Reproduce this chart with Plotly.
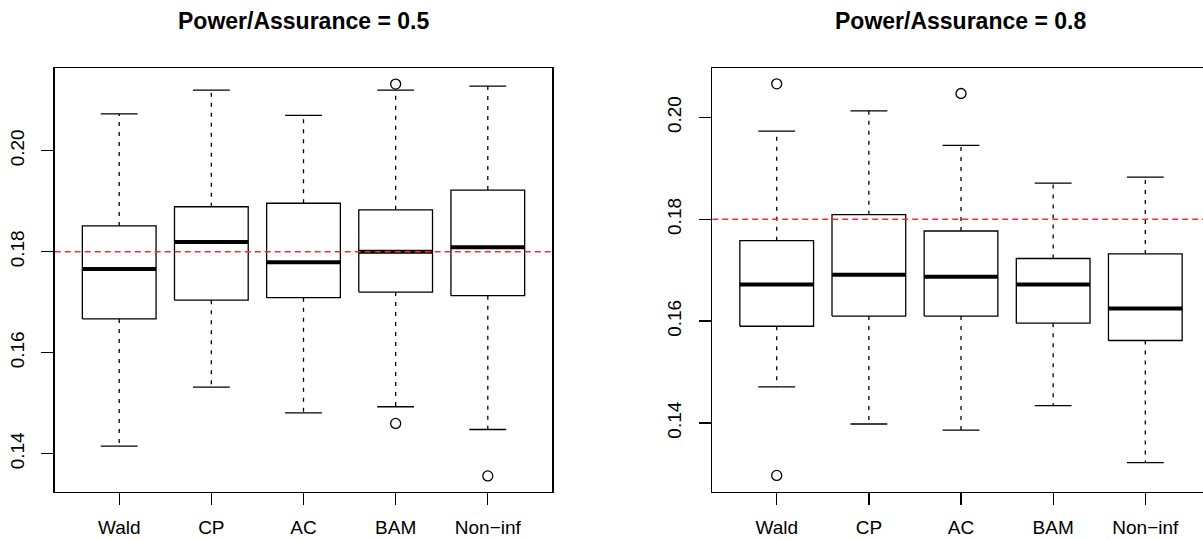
import plotly.graph_objects as go

categories = ["Wald", "CP", "AC", "BAM", "Non\u2212inf"]
titles = ["Power/Assurance = 0.5", "Power/Assurance = 0.8"]
y_ticks = [0.14, 0.16, 0.18, 0.20]
y_tick_labels = ["0.14", "0.16", "0.18", "0.20"]
reference_value = 0.18

# Panel 1: Power/Assurance = 0.5
p1_lower = [0.1415, 0.1532, 0.1481, 0.1493, 0.1448]
p1_q1 = [0.1667, 0.1704, 0.1709, 0.1720, 0.1713]
p1_median = [0.1766, 0.1819, 0.1779, 0.1800, 0.1809]
p1_q3 = [0.1851, 0.1889, 0.1896, 0.1883, 0.1922]
p1_upper = [0.2073, 0.2120, 0.2070, 0.2120, 0.2128]
p1_out_idx = [3, 3, 4]
p1_out_val = [0.2132, 0.1460, 0.1356]

# Panel 2: Power/Assurance = 0.8
p2_lower = [0.1471, 0.1398, 0.1386, 0.1434, 0.1322]
p2_q1 = [0.1590, 0.1610, 0.1610, 0.1596, 0.1562]
p2_median = [0.1672, 0.1691, 0.1687, 0.1672, 0.1625]
p2_q3 = [0.1758, 0.1809, 0.1777, 0.1723, 0.1732]
p2_upper = [0.1973, 0.2013, 0.1945, 0.1871, 0.1883]
p2_out_idx = [0, 0, 2]
p2_out_val = [0.2066, 0.1297, 0.2047]

panels = [
    dict(lower=p1_lower, q1=p1_q1, med=p1_median, q3=p1_q3, upper=p1_upper,
         oi=p1_out_idx, ov=p1_out_val, yr=[0.13248, 0.21632]),
    dict(lower=p2_lower, q1=p2_q1, med=p2_median, q3=p2_q3, upper=p2_upper,
         oi=p2_out_idx, ov=p2_out_val, yr=[0.12651, 0.20965]),
]

W, H = 1203, 540
x_domains = [[54.7 / W, 552.3 / W], [712.2 / W, 1.0]]
x_ranges = [[0.3, 5.7], [0.3, 0.3 + (W - 712.2) / 92.15]]
y_domain = [(H - 491.7) / H, (H - 68.3) / H]

BW = 0.4   # half box width
CW = 0.2   # half cap width
LW = 1.3

fig = go.Figure()
font = "Liberation Sans, Arial, Helvetica, sans-serif"

for k, p in enumerate(panels):
    xa = "x" if k == 0 else "x2"
    ya = "y" if k == 0 else "y2"
    pos = list(range(1, len(categories) + 1))
    # whiskers (dashed)
    wx, wy = [], []
    for i, c in enumerate(pos):
        wx += [c, c, None, c, c, None]
        wy += [p["q3"][i], p["upper"][i], None, p["q1"][i], p["lower"][i], None]
    fig.add_trace(go.Scatter(x=wx, y=wy, mode="lines", xaxis=xa, yaxis=ya,
                             line=dict(color="black", width=LW, dash="4px,6px"),
                             hoverinfo="skip", showlegend=False))
    # caps
    cx, cy = [], []
    for i, c in enumerate(pos):
        cx += [c - CW, c + CW, None, c - CW, c + CW, None]
        cy += [p["upper"][i], p["upper"][i], None, p["lower"][i], p["lower"][i], None]
    fig.add_trace(go.Scatter(x=cx, y=cy, mode="lines", xaxis=xa, yaxis=ya,
                             line=dict(color="black", width=LW),
                             hoverinfo="skip", showlegend=False))
    # boxes
    bx, by = [], []
    for i, c in enumerate(pos):
        bx += [c - BW, c + BW, c + BW, c - BW, c - BW, None]
        by += [p["q1"][i], p["q1"][i], p["q3"][i], p["q3"][i], p["q1"][i], None]
    fig.add_trace(go.Scatter(x=bx, y=by, mode="lines", xaxis=xa, yaxis=ya,
                             line=dict(color="black", width=LW),
                             hoverinfo="skip", showlegend=False))
    # medians
    mx, my = [], []
    for i, c in enumerate(pos):
        mx += [c - BW, c + BW, None]
        my += [p["med"][i], p["med"][i], None]
    fig.add_trace(go.Scatter(x=mx, y=my, mode="lines", xaxis=xa, yaxis=ya,
                             line=dict(color="black", width=4),
                             hoverinfo="skip", showlegend=False))
    # outliers
    fig.add_trace(go.Scatter(x=[pos[i] for i in p["oi"]], y=p["ov"], mode="markers",
                             xaxis=xa, yaxis=ya,
                             marker=dict(symbol="circle-open", size=10,
                                         color="black", line=dict(width=1.3)),
                             hoverinfo="skip", showlegend=False))
    # reference line
    fig.add_trace(go.Scatter(x=[x_ranges[k][0], x_ranges[k][1]],
                             y=[reference_value, reference_value], mode="lines",
                             xaxis=xa, yaxis=ya,
                             line=dict(color="#ff2a2a", width=1.5, dash="6px,4px"),
                             hoverinfo="skip", showlegend=False))

axis_common = dict(showgrid=False, zeroline=False, showline=True, linecolor="black",
                   linewidth=1.3, ticks="outside", ticklen=12, tickwidth=1.3,
                   tickcolor="black", automargin=False,
                   tickfont=dict(family=font, size=19, color="black"))

layout = dict(width=W, height=H, margin=dict(l=0, r=0, t=0, b=0, pad=0),
              template="none",
              plot_bgcolor="white", paper_bgcolor="white", showlegend=False,
              font=dict(family=font, color="black"))
for k in range(2):
    xs = "xaxis" if k == 0 else "xaxis2"
    ys = "yaxis" if k == 0 else "yaxis2"
    layout[xs] = dict(axis_common, domain=x_domains[k], range=x_ranges[k],
                      anchor="y" if k == 0 else "y2",
                      tickvals=list(range(1, len(categories) + 1)),
                      ticktext=categories, mirror=True, ticklabelstandoff=6)
    layout[ys] = dict(axis_common, domain=y_domain, range=panels[k]["yr"],
                      anchor="x" if k == 0 else "x2",
                      tickvals=y_ticks, ticktext=y_tick_labels, tickangle=-90,
                      mirror=(k == 0), ticklabelstandoff=10)
fig.update_layout(**layout)

for k in range(2):
    fig.add_annotation(text="<b>" + titles[k] + "</b>", xref="paper", yref="paper",
                       x=(54.7 + 552.3) / 2 / W if k == 0 else (712.2 + 1209.8) / 2 / W,
                       y=1 - 21 / H, xanchor="center", yanchor="middle", showarrow=False,
                       font=dict(family=font, size=23, color="black"))

fig.write_html("out.html", config={"displayModeBar": False, "staticPlot": True},
               post_script="document.body.style.margin='0';document.body.style.overflow='hidden';")
